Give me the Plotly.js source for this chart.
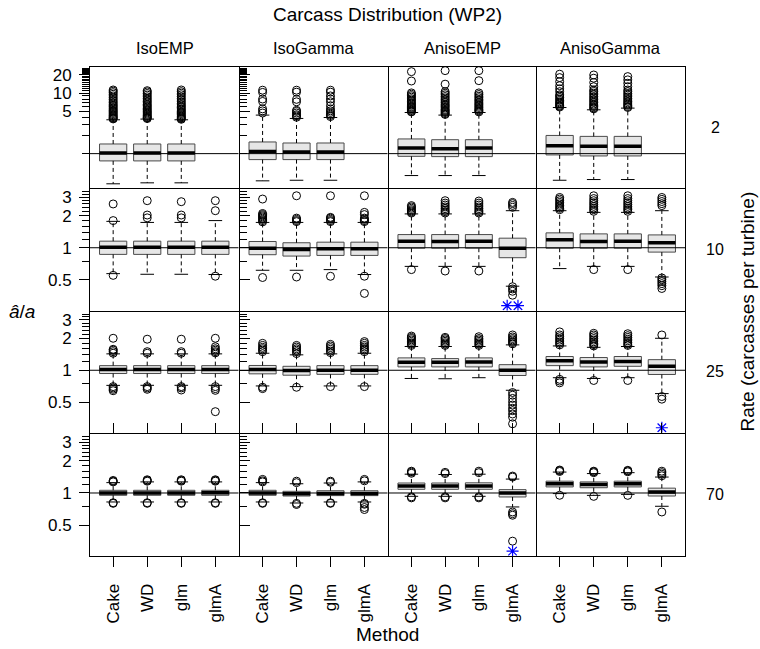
<!DOCTYPE html>
<html><head><meta charset="utf-8">
<script src="https://cdn.plot.ly/plotly-3.0.1.min.js"></script>
<style>body{margin:0;background:#fff}#chart{width:760px;height:649px}</style>
</head><body><div id="chart"></div>
<script>
const distributions = ["IsoEMP","IsoGamma","AnisoEMP","AnisoGamma"];
const rates = ["2","10","25","70"];
const methods = ["Cake","WD","glm","glmA"];

// [rate row][distribution col][method]
const whiskerLow = [
 [[0.317,0.329,0.329],[0.355,0.363,0.363],[0.434,0.434,0.434],[0.363,0.373,0.373]],
 [[0.571,0.563,0.563,0.56],[0.614,0.614,0.623,0.56],[0.668,0.668,0.668,0.435],[0.637,0.668,0.668,0.531]],
 [[0.719,0.72,0.72,0.72],[0.71,0.70,0.71,0.71],[0.836,0.831,0.85,0.646],[0.85,0.836,0.85,0.601]],
 [[0.824,0.824,0.824,0.824],[0.824,0.806,0.824,0.824],[0.931,0.931,0.931,0.74],[0.987,0.95,0.97,0.751]]
];
const q1 = [
 [[0.758,0.758,0.758],[0.797,0.797,0.797],[0.903,0.893,0.893],[0.952,0.916,0.916]],
 [[0.866,0.866,0.866,0.866],[0.86,0.835,0.847,0.847],[0.99,0.99,0.99,0.806],[0.99,0.99,0.99,0.91]],
 [[0.931,0.931,0.931,0.931],[0.925,0.898,0.915,0.915],[1.076,1.076,1.076,0.892],[1.106,1.076,1.09,0.912]],
 [[0.952,0.952,0.952,0.952],[0.952,0.937,0.945,0.945],[1.083,1.083,1.083,0.918],[1.14,1.12,1.14,0.937]]
];
const median = [
 [[1.027,1.027,1.027],[1.09,1.067,1.067],[1.24,1.21,1.24],[1.35,1.32,1.32]],
 [[1.013,1.013,1.013,1.013],[0.99,0.964,0.979,0.979],[1.153,1.145,1.153,0.99],[1.19,1.145,1.153,1.114]],
 [[1.015,1.015,1.015,1.015],[1.015,0.994,1.0,1.0],[1.19,1.19,1.20,1.0],[1.23,1.20,1.21,1.09]],
 [[1.0,1.0,1.0,1.005],[1.0,0.985,0.99,0.99],[1.16,1.16,1.16,1.0],[1.22,1.20,1.22,1.02]]
];
const q3 = [
 [[1.445,1.445,1.445],[1.56,1.50,1.50],[1.75,1.70,1.70],[2.0,1.93,1.93]],
 [[1.153,1.153,1.153,1.153],[1.145,1.114,1.128,1.128],[1.33,1.33,1.33,1.23],[1.38,1.35,1.35,1.32]],
 [[1.106,1.106,1.106,1.106],[1.11,1.09,1.106,1.106],[1.31,1.29,1.31,1.13],[1.35,1.32,1.35,1.26]],
 [[1.06,1.06,1.06,1.06],[1.06,1.037,1.05,1.05],[1.24,1.24,1.245,1.075],[1.29,1.27,1.29,1.11]]
];
const whiskerHigh = [
 [[3.63,3.73,3.63],[4.34,3.82,3.96],[4.79,4.34,4.79],[5.79,5.31,5.66]],
 [[1.77,1.73,1.73,1.80],[1.73,1.73,1.73,1.73],[2.08,2.08,2.08,2.23],[2.23,2.15,2.15,2.23]],
 [[1.43,1.43,1.43,1.43],[1.45,1.40,1.43,1.45],[1.68,1.68,1.68,1.74],[1.70,1.65,1.68,2.01]],
 [[1.25,1.27,1.27,1.27],[1.25,1.22,1.24,1.27],[1.50,1.49,1.50,1.35],[1.57,1.52,1.55,1.41]]
];
const outliers = [
 [ // rate 2
  [[3.75,3.85,3.95,4.1,4.25,4.4,4.6,4.8,5.0,5.2,5.45,5.7,6.0,6.3,6.6,7.0,7.4,7.9,8.4,9.0,9.6,10.2,10.8,11.3],
   [3.8,3.9,4.0,4.15,4.3,4.5,4.7,4.9,5.1,5.35,5.6,5.9,6.2,6.5,6.9,7.3,7.7,8.2,8.7,9.3,9.9,10.5,11.0],
   [3.7,3.8,3.9,4.05,4.2,4.4,4.6,4.8,5.0,5.25,5.5,5.8,6.1,6.4,6.8,7.2,7.7,8.2,8.8,9.4,10.0,10.6,11.3]],
  [[4.7,5.1,5.5,7.3,8.0,10.3,11.2],
   [4.0,4.2,4.4,4.7,5.0,5.2,7.2,7.9,10.4,11.2],
   [4.1,4.3,4.5,4.8,5.1,5.5,6.2,7.2,8.0,9.0,10.4,11.2]],
  [[4.9,5.0,5.2,5.4,5.6,5.8,6.0,6.3,6.6,6.9,7.3,7.7,8.1,8.6,9.1,9.6,10.1,15.9,22.7],
   [4.45,4.6,4.8,5.0,5.2,5.4,5.7,6.0,6.3,6.6,7.0,7.4,7.8,8.3,8.8,9.4,10.0,10.6,14.1,23.6],
   [4.9,5.1,5.3,5.5,5.8,6.1,6.4,6.7,7.1,7.5,7.9,8.4,8.9,9.5,10.1,16.1,23.6]],
  [[5.9,6.1,6.3,6.6,6.9,7.2,7.6,8.0,8.5,9.0,9.4,10.6,11.8,13.3,15.5,18.1,20.6],
   [5.5,5.7,6.0,6.3,6.6,7.0,7.4,7.8,8.3,8.8,9.4,10.0,10.7,11.3,12.8,15.0,17.7,20.0],
   [5.8,6.0,6.3,6.6,6.9,7.3,7.7,8.2,8.7,9.3,9.9,10.6,11.3,12.8,14.6,16.6,18.8]]
 ],
 [ // rate 10
  [[1.8,2.58,0.55],[1.91,2.03,2.77],[1.91,2.03,2.71],[2.23,2.77,0.54]],
  [[1.75,1.8,1.85,1.9,1.95,2.0,2.05,2.1,2.87,0.525],[1.76,1.8,1.85,1.9,3.08,0.531],
   [1.76,1.8,1.85,1.9,1.93,3.08,0.539],[1.76,1.8,1.85,1.9,2.05,2.15,3.08,0.54,0.372]],
  [[2.12,2.17,2.22,2.28,2.35,2.42,2.49,0.623],[2.12,2.18,2.25,2.33,2.42,2.52,2.63,2.77,0.604],
   [2.12,2.18,2.25,2.33,2.42,2.52,2.63,2.75,0.604],[2.4,2.5,2.6,2.67,0.43,0.41,0.39,0.358]],
  [[2.28,2.35,2.42,2.5,2.58,2.67,2.77,2.87,2.97],[2.2,2.28,2.36,2.45,2.55,2.65,2.77,2.9,3.08,0.623],
   [2.2,2.28,2.36,2.45,2.55,2.65,2.77,2.9,3.08,0.623],[2.49,2.6,2.72,2.85,2.97,0.52,0.5,0.48,0.46,0.44,0.414]]
 ],
 [ // rate 25
  [[1.45,1.5,1.55,1.58,2.01,0.70,0.68,0.66,0.64],[1.45,1.5,1.97,0.7,0.68,0.66],
   [1.45,1.5,1.97,0.7,0.68,0.65],[1.46,1.5,1.55,1.6,1.67,2.01,0.7,0.67,0.645,0.405]],
  [[1.5,1.55,1.6,1.65,1.72,1.8,0.69,0.67],[1.44,1.5,1.55,1.6,1.66,1.72,0.69],
   [1.47,1.52,1.58,1.64,1.7,1.76,0.70],[1.5,1.55,1.6,1.66,1.72,1.8,1.87,0.70]],
  [[1.72,1.77,1.82,1.88,1.94,2.0,2.05,2.11],[1.72,1.77,1.82,1.88,1.94,2.0,2.05],
   [1.72,1.77,1.82,1.88,1.94,2.0,2.08],
   [1.78,1.83,1.88,1.94,2.0,2.07,2.16,0.615,0.58,0.541,0.502,0.468,0.436,0.414,0.385,0.359,0.311]],
  [[1.74,1.8,1.86,1.93,2.0,2.08,2.16,2.31,0.82,0.79,0.76],[1.7,1.75,1.8,1.86,1.93,2.0,2.08,2.16,2.24,0.80],
   [1.72,1.77,1.83,1.9,1.97,2.05,2.13,2.22,0.80],[2.16,0.564,0.532]]
 ],
 [ // rate 70
  [[1.27,1.29,1.31,0.81,0.80],[1.29,1.31,1.33,0.81,0.80],[1.29,1.31,1.33,0.81,0.80],[1.29,1.31,1.33,0.81,0.80]],
  [[1.27,1.3,1.34,0.81,0.80],[1.25,1.29,0.80,0.78],[1.26,1.29,0.81,0.80],[1.3,1.34,0.8,0.784,0.731,0.70]],
  [[1.53,1.57,1.60,0.92,0.90],[1.52,1.56,0.92,0.90],[1.55,1.60,0.92,0.90],[1.41,1.44,0.664,0.64,0.619,0.354]],
  [[1.59,1.62,1.64,0.952],[1.55,1.58,1.60,0.93],[1.58,1.61,1.63,0.95],[1.45,1.5,1.55,1.60,0.664]]
 ]
];
// number of estimates below the plotted range (drawn as blue asterisks)
const offscaleCount = [
 [[0,0,0],[0,0,0],[0,0,0],[0,0,0]],
 [[0,0,0,0],[0,0,0,0],[0,0,0,2],[0,0,0,0]],
 [[0,0,0,0],[0,0,0,0],[0,0,0,0],[0,0,0,1]],
 [[0,0,0,0],[0,0,0,0],[0,0,0,1],[0,0,0,0]]
];
const yTickVals = [[5,10,20],[0.5,1,2,3],[0.5,1,2,3],[0.5,1,2,3]];
const yMinorVals = [
 [1,2,3,4,6,7,8,9,11,12,13,14,15,16,17,18,19,21,22,23,24,25,26],
 [0.75,1.2,1.4,1.6,1.8,2.2,2.4,2.6,2.8,3.2,3.4],
 [0.75,1.2,1.4,1.6,1.8,2.2,2.4,2.6,2.8,3.2,3.4],
 [0.75,1.2,1.4,1.6,1.8,2.2,2.4,2.6,2.8,3.2,3.4]
];

// ---------- layout geometry ----------
const W = 760, H = 649;
const colEdges = [90, 239, 388, 536, 685];
const rowEdges = [67, 188, 311, 433, 556];
const yRanges = [[-0.56, 1.433], [-0.59, 0.557], [-0.59, 0.557], [-0.59, 0.557]];
const FONT = "Liberation Sans, Arial, Helvetica, sans-serif";

const data = [];
const shapes = [];
for (let r = 0; r < 4; r++) {
  for (let c = 0; c < 4; c++) {
    const xa = 'x' + (c === 0 ? '' : c + 1);
    const ya = 'y' + (r === 0 ? '' : r + 1);
    const n = q1[r][c].length;
    const xs = [];
    for (let i = 0; i < n; i++) xs.push(i + 1);
    data.push({
      type: 'box', x: xs, q1: q1[r][c], median: median[r][c], q3: q3[r][c],
      lowerfence: q1[r][c], upperfence: q3[r][c], width: 0.8, whiskerwidth: 0,
      fillcolor: '#e6e6e6', line: {color: '#4a4a4a', width: 1},
      boxpoints: false, xaxis: xa, yaxis: ya, hoverinfo: 'skip', showlegend: false
    });
    const wx = [], wy = [], cx = [], cy = [], mx = [], my = [], ox = [], oy = [], ax = [], ay = [];
    for (let i = 0; i < n; i++) {
      const x = xs[i];
      wx.push(x, x, null, x, x, null);
      wy.push(q3[r][c][i], whiskerHigh[r][c][i], null, q1[r][c][i], whiskerLow[r][c][i], null);
      cx.push(x - 0.2, x + 0.2, null, x - 0.2, x + 0.2, null);
      cy.push(whiskerHigh[r][c][i], whiskerHigh[r][c][i], null, whiskerLow[r][c][i], whiskerLow[r][c][i], null);
      mx.push(x - 0.4, x + 0.4, null);
      my.push(median[r][c][i], median[r][c][i], null);
      outliers[r][c][i].forEach(v => { ox.push(x); oy.push(v); });
      const k = offscaleCount[r][c][i];
      const yLow = Math.pow(10, yRanges[r][0] + 0.045);
      for (let j = 0; j < k; j++) { ax.push(x + (j - (k - 1) / 2) * 0.32); ay.push(yLow); }
    }
    data.push({type: 'scatter', mode: 'lines', x: wx, y: wy, xaxis: xa, yaxis: ya,
      line: {color: '#000', width: 1, dash: '4px,3px'}, hoverinfo: 'skip', showlegend: false});
    data.push({type: 'scatter', mode: 'lines', x: cx, y: cy, xaxis: xa, yaxis: ya,
      line: {color: '#000', width: 1}, hoverinfo: 'skip', showlegend: false});
    data.push({type: 'scatter', mode: 'lines', x: mx, y: my, xaxis: xa, yaxis: ya,
      line: {color: '#000', width: 3.5}, hoverinfo: 'skip', showlegend: false});
    data.push({type: 'scatter', mode: 'markers', x: ox, y: oy, xaxis: xa, yaxis: ya,
      marker: {symbol: 'circle-open', size: 8, color: '#000', line: {color: '#000', width: 1}},
      hoverinfo: 'skip', showlegend: false});
    if (ax.length) {
      data.push({type: 'scatter', mode: 'markers', x: ax, y: ay, xaxis: xa, yaxis: ya,
        marker: {symbol: 'asterisk-open', size: 10, color: '#0000ff', line: {color: '#0000ff', width: 1.2}},
        hoverinfo: 'skip', showlegend: false});
    }
    shapes.push({type: 'line', xref: xa + ' domain', x0: 0, x1: 1, yref: ya, y0: 1, y1: 1,
      line: {color: '#000', width: 1}, layer: 'above'});
  }
}

const layout = {
  width: W, height: H, margin: {l: 0, r: 0, t: 0, b: 0},
  paper_bgcolor: '#fff', plot_bgcolor: '#fff', showlegend: false,
  font: {family: FONT, color: '#000', size: 16},
  shapes: shapes, annotations: []
};
// adjacent panels share one border pixel: shrink each domain by half a pixel at inner edges
for (let c = 0; c < 4; c++) {
  const x0 = colEdges[c] + (c > 0 ? 0.5 : 0);
  const x1 = colEdges[c + 1] - (c < 3 ? 0.5 : 0);
  layout['xaxis' + (c === 0 ? '' : c + 1)] = {
    domain: [x0 / W, x1 / W], range: [0.32, 4.68], anchor: 'y4',
    tickmode: 'array', tickvals: [1, 2, 3, 4], ticktext: methods, tickangle: -90,
    ticks: 'outside', ticklen: 10, tickcolor: '#000', ticklabelstandoff: 10,
    showline: true, linecolor: '#000', linewidth: 1, mirror: 'all',
    showgrid: false, zeroline: false, tickfont: {size: 17, family: FONT}, fixedrange: true
  };
  layout.annotations.push({text: distributions[c], xref: 'paper', yref: 'paper',
    x: (colEdges[c] + colEdges[c + 1]) / 2 / W, y: 1 - 48 / H, showarrow: false,
    font: {size: 16.5}, xanchor: 'center', yanchor: 'middle'});
}
for (let r = 0; r < 4; r++) {
  const yTop = rowEdges[r] + (r > 0 ? 0.5 : 0);
  const yBot = rowEdges[r + 1] - (r < 3 ? 0.5 : 0);
  layout['yaxis' + (r === 0 ? '' : r + 1)] = {
    domain: [1 - yBot / H, 1 - yTop / H], type: 'log', range: yRanges[r],
    anchor: 'x', tickmode: 'array', tickvals: yTickVals[r], ticktext: yTickVals[r].map(String),
    ticks: 'outside', ticklen: 10, tickcolor: '#000', ticklabelstandoff: 4,
    minor: {tickmode: 'array', tickvals: yMinorVals[r], ticks: 'outside', ticklen: 7, tickcolor: '#000', showgrid: false},
    showline: true, linecolor: '#000', linewidth: 1, mirror: 'all',
    showgrid: false, zeroline: false, tickfont: {size: 17, family: FONT}, fixedrange: true
  };
  layout.annotations.push({text: rates[r], xref: 'paper', yref: 'paper',
    x: 715 / W, y: 1 - (rowEdges[r] + rowEdges[r + 1]) / 2 / H, showarrow: false,
    font: {size: 16}, xanchor: 'center', yanchor: 'middle'});
}
const midX = (colEdges[0] + colEdges[4]) / 2 / W;
const midY = 1 - (rowEdges[0] + rowEdges[4]) / 2 / H;
layout.annotations.push(
  {text: 'Carcass Distribution (WP2)', xref: 'paper', yref: 'paper', x: midX, y: 1 - 15 / H,
   showarrow: false, font: {size: 19}, xanchor: 'center', yanchor: 'middle'},
  {text: 'Method', xref: 'paper', yref: 'paper', x: midX, y: 1 - 634 / H,
   showarrow: false, font: {size: 19}, xanchor: 'center', yanchor: 'middle'},
  {text: 'Rate (carcasses per turbine)', xref: 'paper', yref: 'paper', x: 747 / W, y: midY,
   showarrow: false, font: {size: 19}, textangle: -90, xanchor: 'center', yanchor: 'middle'},
  {text: '<i>â</i>/<i>a</i>', xref: 'paper', yref: 'paper', x: 22 / W, y: midY,
   showarrow: false, font: {size: 19}, xanchor: 'center', yanchor: 'middle'}
);

Plotly.newPlot('chart', data, layout, {staticPlot: true, displayModeBar: false});
</script>
</body></html>
